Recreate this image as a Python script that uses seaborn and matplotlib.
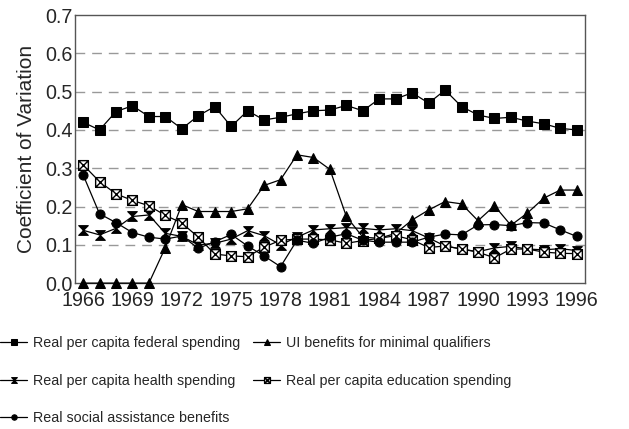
import numpy as np
import pandas as pd
import seaborn as sns
import matplotlib.pyplot as plt
from matplotlib.path import Path
from matplotlib.ticker import MultipleLocator, FixedLocator

years = list(range(1966, 1997))
federal = [0.42, 0.40, 0.448, 0.463, 0.435, 0.435, 0.403, 0.437, 0.461, 0.409, 0.45,
           0.426, 0.433, 0.442, 0.45, 0.452, 0.464, 0.45, 0.481, 0.481, 0.497, 0.47,
           0.504, 0.461, 0.439, 0.43, 0.433, 0.423, 0.416, 0.404, 0.40]
ui = [0, 0, 0, 0, 0, 0.093, 0.205, 0.187, 0.187, 0.187, 0.194, 0.255, 0.27, 0.335,
      0.328, 0.297, 0.174, 0.12, 0.117, 0.13, 0.165, 0.191, 0.213, 0.207, 0.163,
      0.202, 0.151, 0.183, 0.222, 0.243, 0.243]
health = [0.138, 0.126, 0.143, 0.174, 0.178, 0.13, 0.122, 0.1, 0.104, 0.115, 0.137,
          0.124, 0.1, 0.12, 0.139, 0.142, 0.145, 0.143, 0.139, 0.142, 0.137, 0.118,
          0.097, 0.089, 0.082, 0.092, 0.096, 0.089, 0.087, 0.09, 0.085]
education = [0.309, 0.265, 0.233, 0.216, 0.202, 0.177, 0.157, 0.12, 0.076, 0.071, 0.069,
             0.094, 0.112, 0.115, 0.115, 0.113, 0.104, 0.111, 0.117, 0.124, 0.113, 0.093,
             0.097, 0.089, 0.081, 0.066, 0.089, 0.089, 0.081, 0.078, 0.077]
social = [0.283, 0.181, 0.158, 0.132, 0.12, 0.115, 0.123, 0.091, 0.108, 0.127, 0.097,
          0.071, 0.043, 0.112, 0.104, 0.12, 0.129, 0.112, 0.107, 0.107, 0.107, 0.12,
          0.128, 0.126, 0.152, 0.153, 0.15, 0.158, 0.157, 0.139, 0.122]
year_ticks = [1966, 1969, 1972, 1975, 1978, 1981, 1984, 1987, 1990, 1993, 1996]

labels = ["Real per capita federal spending", "UI benefits for minimal qualifiers",
          "Real per capita health spending", "Real per capita education spending",
          "Real social assistance benefits"]

df = pd.DataFrame({"Year": years, labels[0]: federal, labels[1]: ui,
                   labels[2]: health, labels[3]: education, labels[4]: social})
long_df = df.melt(id_vars="Year", var_name="Series", value_name="CV")

# custom markers
hourglass = Path([(-1, 1), (1, 1), (-1, -1), (1, -1), (-1, 1)],
                 [Path.MOVETO, Path.LINETO, Path.LINETO, Path.LINETO, Path.CLOSEPOLY])
boxx = Path([(-1, -1), (1, -1), (1, 1), (-1, 1), (-1, -1),
             (-1, -1), (1, 1), (-1, 1), (1, -1)],
            [Path.MOVETO, Path.LINETO, Path.LINETO, Path.LINETO, Path.CLOSEPOLY,
             Path.MOVETO, Path.LINETO, Path.MOVETO, Path.LINETO])

styles = {
    labels[0]: dict(marker="s", markersize=6.5, markerfacecolor="black"),
    labels[1]: dict(marker="^", markersize=7, markerfacecolor="black"),
    labels[2]: dict(marker=hourglass, markersize=7, markerfacecolor="black"),
    labels[3]: dict(marker=boxx, markersize=7, markerfacecolor="white", markeredgewidth=1.0),
    labels[4]: dict(marker="o", markersize=6.5, markerfacecolor="black"),
}

sns.set_style("white")
plt.rcParams['font.family'] = ['Liberation Sans', 'DejaVu Sans']

fig, ax = plt.subplots(figsize=(6.29, 4.29), dpi=100)
fig.subplots_adjust(left=0.119, right=0.930, top=0.965, bottom=0.340)

for name in labels:
    sub = long_df[long_df["Series"] == name]
    sns.lineplot(data=sub, x="Year", y="CV", ax=ax, color="black", linewidth=0.9,
                 markeredgecolor="black", label=name, clip_on=False, zorder=3,
                 **styles[name])

ax.set_xlim(1965.5, 1996.5)
ax.set_ylim(0, 0.7)
ax.xaxis.set_major_locator(FixedLocator(year_ticks))
ax.xaxis.set_minor_locator(MultipleLocator(1))
ax.yaxis.set_major_locator(MultipleLocator(0.1))
ax.yaxis.set_minor_locator(MultipleLocator(0.05))
ax.yaxis.set_major_formatter(plt.FormatStrFormatter('%.1f'))
ax.tick_params(axis='both', which='both', direction='in', labelsize=14.2, color='#666666')
ax.tick_params(axis='x', which='both', length=5, pad=6, top=False)
ax.tick_params(axis='y', which='both', length=4, pad=1.5, right=False)

for y in np.arange(0.1, 0.65, 0.1):
    ax.axhline(y, color='#999999', linestyle=(0, (7, 5)), linewidth=1.0, zorder=0)

for s in ax.spines.values():
    s.set_color('#555555')
    s.set_linewidth(1.0)

ax.set_xlabel("")
ax.set_ylabel("Coefficient of Variation", fontsize=15, labelpad=7)

h, l = ax.get_legend_handles_labels()
ax.get_legend().remove()
order = [0, 2, 4, 1, 3]
fig.legend([h[i] for i in order], [l[i] for i in order], ncol=2,
           loc='upper left', bbox_to_anchor=(0.0, 0.217), frameon=False,
           fontsize=10.3, handlelength=1.9, handletextpad=0.4, columnspacing=0.9,
           labelspacing=1.65, markerscale=0.6, borderaxespad=0, borderpad=0)

fig.savefig("out.png", dpi=100)
